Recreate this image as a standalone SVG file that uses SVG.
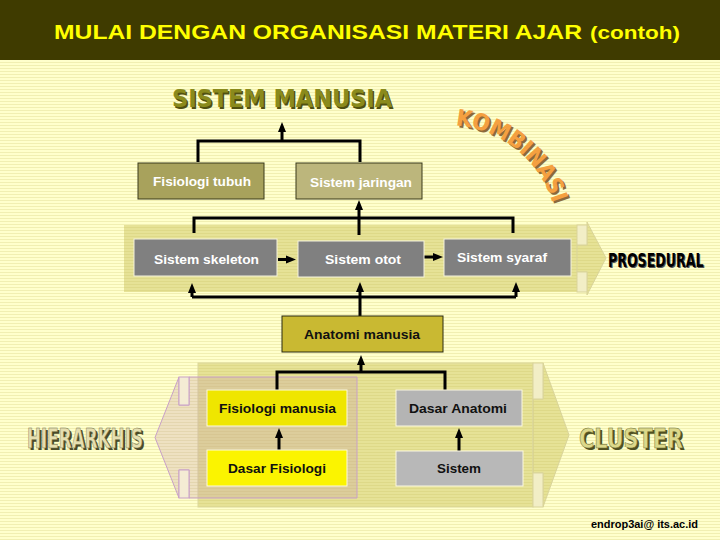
<svg xmlns="http://www.w3.org/2000/svg" width="720" height="540" viewBox="0 0 720 540">
<defs>
<pattern id="stripes" width="8" height="3" patternUnits="userSpaceOnUse">
<rect width="8" height="3" fill="#ffffcc"/>
<rect y="2" width="8" height="1" fill="#f1efb2"/>
</pattern>
<marker id="ah" markerUnits="userSpaceOnUse" markerWidth="10" markerHeight="10" viewBox="0 0 10 10" refX="4" refY="5" orient="auto">
<path d="M0,1 L10,5 L0,9 z" fill="#000"/>
</marker>
<path id="arc" d="M455.6,125.4 A111,111 0 0 1 552.6,202.5"/>
</defs>
<style>
.lbl{font-family:"Liberation Sans",Arial,sans-serif;font-weight:bold;font-size:13.5px}
.w{fill:#ffffff}
.k{fill:#111111}
.con{fill:none;stroke:#000;stroke-width:3}
.arr{fill:none;stroke:#000;stroke-width:3;marker-end:url(#ah)}
.heavy{font-family:"DejaVu Sans Condensed","Liberation Sans Narrow","DejaVu Sans",sans-serif;font-weight:bold}
.band{fill:#c8bf55;fill-opacity:0.45}
.notch{fill:#f2eec6;stroke:#d9d49a;stroke-width:1}
.pink{fill:#c89ca8;fill-opacity:0.3;stroke:#c8a0c8;stroke-width:1}
</style>
<rect width="720" height="540" fill="url(#stripes)"/>
<rect width="720" height="60" fill="#3f3b00"/>
<text x="54" y="39" fill="#ffff00" font-family="Liberation Sans,Arial,sans-serif" font-weight="bold" font-size="20.5" textLength="528" lengthAdjust="spacingAndGlyphs">MULAI DENGAN ORGANISASI MATERI AJAR</text>
<text x="590" y="39" fill="#ffff00" font-family="Liberation Sans,Arial,sans-serif" font-weight="bold" font-size="18" textLength="90" lengthAdjust="spacingAndGlyphs">(contoh)</text>

<g id="band-prosedural">
<rect x="124" y="225" width="453" height="67" class="band"/>
<polygon points="577,245 587,245 587,222 606,258 587,295 587,272 577,272" class="band" stroke="#d9d49a" stroke-width="1"/>
<rect x="577" y="225" width="10" height="20" class="notch"/>
<rect x="577" y="272" width="10" height="20" class="notch"/>
</g>
<g id="band-cluster">
<rect x="198" y="363" width="335" height="144" class="band" stroke="#dcd89c" stroke-width="1"/>
<polygon points="533,399 543,399 543,363 569,435 543,507 543,473 533,473" class="band" stroke="#d9d49a" stroke-width="1"/>
<rect x="533" y="363" width="10" height="36" class="notch"/>
<rect x="533" y="473" width="10" height="34" class="notch"/>
</g>
<g id="band-hierarkhis">
<path d="M189,377 H357 V498 H189 V470 H179 V498 L155,437.5 L179,377 V405 H189 Z" class="pink"/>
<rect x="179" y="377" width="10" height="28" fill="#f4ecd4" stroke="#c8a0c8" stroke-width="1"/>
<rect x="179" y="470" width="10" height="28" fill="#f4ecd4" stroke="#c8a0c8" stroke-width="1"/>
</g>

<g id="connectors">
<path class="con" d="M198,162 V141 H360 V162"/>
<path class="arr" d="M282,141 V128"/>
<path class="con" d="M194,233 V218 H513 V233"/>
<path class="arr" d="M359,235 V206"/>
<path class="arr" d="M278,259.5 H290"/>
<path class="arr" d="M424,257 H437"/>
<path class="con" d="M192,297 H516"/>
<path class="con" d="M360,297 V316"/>
<path class="arr" d="M192,297 V289"/>
<path class="arr" d="M360,297 V288"/>
<path class="arr" d="M516,297 V288"/>
<path class="con" d="M277,390 V372 H445 V390"/>
<path class="arr" d="M361,372 V361"/>
<path class="arr" d="M279,450 V434"/>
<path class="arr" d="M459,451 V434"/>
</g>

<g id="sistem-manusia">
<text x="173.5" y="108.5" fill="#505010" font-family="DejaVu Sans,sans-serif" font-weight="bold" font-size="24" textLength="220" lengthAdjust="spacingAndGlyphs">SISTEM MANUSIA</text>
<text x="172" y="107" fill="#8a8a1c" font-family="DejaVu Sans,sans-serif" font-weight="bold" font-size="24" textLength="220" lengthAdjust="spacingAndGlyphs">SISTEM MANUSIA</text>
</g>
<g id="fisiologi-tubuh">
<rect x="138" y="163" width="126" height="36" fill="#a8a25c" stroke="#3a3a1a" stroke-width="1"/>
<text x="153" y="186" class="lbl w" textLength="98" lengthAdjust="spacingAndGlyphs">Fisiologi tubuh</text>
</g>
<g id="sistem-jaringan">
<rect x="296" y="163" width="126" height="36" fill="#bcb67c" stroke="#3a3a1a" stroke-width="1"/>
<text x="310" y="187" class="lbl w" textLength="102" lengthAdjust="spacingAndGlyphs">Sistem jaringan</text>
</g>
<g id="sistem-skeleton">
<rect x="134" y="239" width="143" height="37" fill="#808080" stroke="#f4f2dc" stroke-width="1"/>
<text x="154" y="264" class="lbl w" textLength="105" lengthAdjust="spacingAndGlyphs">Sistem skeleton</text>
</g>
<g id="sistem-otot">
<rect x="298" y="241" width="126" height="36" fill="#808080" stroke="#f4f2dc" stroke-width="1"/>
<text x="325" y="264" class="lbl w" textLength="76" lengthAdjust="spacingAndGlyphs">Sistem otot</text>
</g>
<g id="sistem-syaraf">
<rect x="444" y="239" width="127" height="37" fill="#808080" stroke="#f4f2dc" stroke-width="1"/>
<text x="457" y="262" class="lbl w" textLength="90" lengthAdjust="spacingAndGlyphs">Sistem syaraf</text>
</g>
<g id="anatomi-manusia">
<rect x="282" y="316" width="161" height="36" fill="#c9b932" stroke="#2a2a10" stroke-width="1"/>
<text x="304" y="339" class="lbl k" textLength="116" lengthAdjust="spacingAndGlyphs">Anatomi manusia</text>
</g>
<g id="fisiologi-manusia">
<rect x="207" y="390" width="140" height="36" fill="#efe600" stroke="#fbf8e0" stroke-width="1"/>
<text x="219" y="413" class="lbl k" textLength="117" lengthAdjust="spacingAndGlyphs">Fisiologi manusia</text>
</g>
<g id="dasar-fisiologi">
<rect x="207" y="450" width="140" height="36" fill="#fbf400" stroke="#fbf8e0" stroke-width="1"/>
<text x="228" y="473" class="lbl k" textLength="98" lengthAdjust="spacingAndGlyphs">Dasar Fisiologi</text>
</g>
<g id="dasar-anatomi">
<rect x="396" y="390" width="126" height="36" fill="#b4b4b4" stroke="#fbf8e0" stroke-width="1"/>
<text x="409" y="413" class="lbl k" textLength="98" lengthAdjust="spacingAndGlyphs">Dasar Anatomi</text>
</g>
<g id="sistem">
<rect x="396" y="451" width="127" height="35" fill="#b8b8b8" stroke="#fbf8e0" stroke-width="1"/>
<text x="437" y="473" class="lbl k" textLength="44" lengthAdjust="spacingAndGlyphs">Sistem</text>
</g>

<g id="kombinasi">
<text transform="translate(2,2)" fill="#8c6a3a" font-family="DejaVu Sans,sans-serif" font-weight="bold" font-size="23"><textPath href="#arc" textLength="132" lengthAdjust="spacingAndGlyphs">KOMBINASI</textPath></text>
<text fill="#f4a040" font-family="DejaVu Sans,sans-serif" font-weight="bold" font-size="23"><textPath href="#arc" textLength="132" lengthAdjust="spacingAndGlyphs">KOMBINASI</textPath></text>
</g>
<g id="prosedural">
<text transform="translate(609,268) scale(0.7,1)" fill="#555" class="heavy" font-size="20">PROSEDURAL</text>
<text transform="translate(608,267) scale(0.7,1)" fill="#000" class="heavy" font-size="20">PROSEDURAL</text>
</g>
<g id="hierarkhis">
<text x="29" y="450" fill="#4a4a28" class="heavy" font-size="27" textLength="116" lengthAdjust="spacingAndGlyphs">HIERARKHIS</text>
<text x="27" y="448" fill="#e6dfb0" stroke="#6a6a40" stroke-width="0.5" class="heavy" font-size="27" textLength="116" lengthAdjust="spacingAndGlyphs">HIERARKHIS</text>
</g>
<g id="cluster">
<text x="581" y="450" fill="#505020" class="heavy" font-size="27" textLength="104" lengthAdjust="spacingAndGlyphs">CLUSTER</text>
<text x="579" y="448" fill="#dcd88a" stroke="#6a6a30" stroke-width="0.5" class="heavy" font-size="27" textLength="104" lengthAdjust="spacingAndGlyphs">CLUSTER</text>
</g>
<text x="591" y="528" fill="#000" font-family="Liberation Sans,Arial,sans-serif" font-weight="bold" font-size="11" textLength="107" lengthAdjust="spacingAndGlyphs">endrop3ai@ its.ac.id</text>
</svg>
